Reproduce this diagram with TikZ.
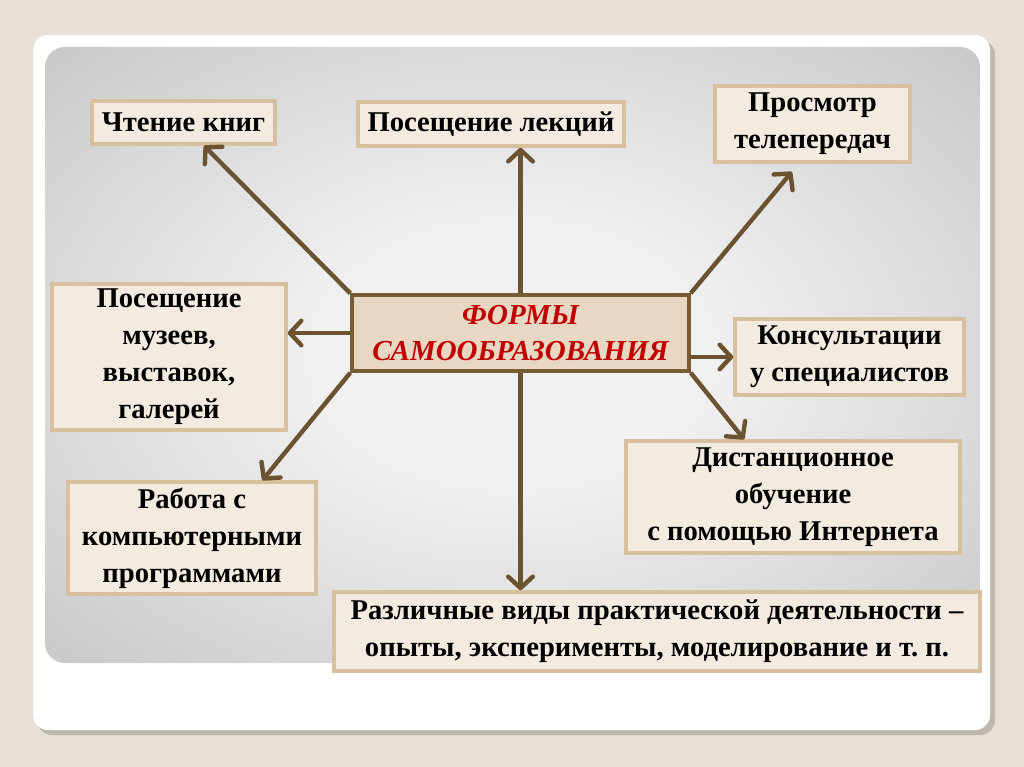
\documentclass[tikz,border=0pt]{standalone}
\usepackage{fontspec}
\setmainfont{Liberation Serif}
\usetikzlibrary{arrows.meta,calc}
\frenchspacing
\definecolor{pagebg}{HTML}{E6E0D6}
\definecolor{boxfill}{HTML}{F3EBE0}
\definecolor{boxline}{HTML}{D8C09E}
\definecolor{cfill}{HTML}{E8D8C3}
\definecolor{cline}{HTML}{7A5C34}
\definecolor{arrowc}{HTML}{6B5230}
\definecolor{ctext}{HTML}{C00000}
\definecolor{grayC}{HTML}{F1F1F1}
\definecolor{grayM}{HTML}{D0D0D0}
\definecolor{grayE}{HTML}{A6A6A6}
\definecolor{shadowc}{HTML}{BDB7AE}
\pgfdeclareradialshading{bgshade}{\pgfpoint{0bp}{0bp}}{color(0bp)=(grayC); color(10bp)=(grayC); color(31bp)=(grayM); color(56bp)=(grayE); color(75bp)=(grayE)}
\tikzset{
  box/.style={draw=boxline, fill=boxfill, line width=2pt, align=center, inner sep=2pt,
    font=\bfseries\fontsize{16.3}{21}\selectfont, text=black},
  centerbox/.style={draw=cline, fill=cfill, line width=2pt, align=center,
    font=\bfseries\itshape\fontsize{16.5}{20.5}\selectfont, text=ctext},
  conn/.style={draw=arrowc, line width=2.5pt, -{Straight Barb[round,length=6.5pt,width=14pt,line width=2.5pt]}},
}
\begin{document}
\begin{tikzpicture}[x=0.02cm,y=-0.02cm]
\useasboundingbox (0,0) rectangle (1024,767);
\fill[pagebg] (0,0) rectangle (1024,767);
% frame
\fill[shadowc, rounded corners=0.3cm] (37,40) rectangle (995,735);
\fill[white, rounded corners=0.3cm] (33,35) rectangle (990,730);
\shade[shading=bgshade, rounded corners=0.4cm] (45,47) rectangle (980,663);
% nodes
\node[centerbox, minimum width=6.74cm, minimum height=1.52cm] (c) at (520.5,333) {ФОРМЫ\\САМООБРАЗОВАНИЯ};
\node[box, minimum width=3.66cm, minimum height=0.86cm] (n1) at (183.5,122.5) {Чтение книг};
\node[box, minimum width=5.32cm, minimum height=0.88cm] (n2) at (491,124) {Посещение лекций};
\node[box, minimum width=3.90cm, minimum height=1.52cm] (n3) at (812.5,124) {Просмотр\\телепередач};
\node[box, minimum width=4.68cm, minimum height=2.92cm] (n4) at (169,357) {Посещение\\музеев,\\выставок,\\галерей};
\node[box, minimum width=4.58cm, minimum height=1.52cm] (n5) at (849.5,357) {Консультации\\у специалистов};
\node[box, minimum width=6.68cm, minimum height=2.24cm] (n6) at (793,497) {Дистанционное\\обучение\\с помощью Интернета};
\node[box, minimum width=4.96cm, minimum height=2.24cm] (n7) at (192,538) {Работа с\\компьютерными\\программами};
\node[box, minimum width=12.92cm, minimum height=1.58cm] (n8) at (657,631.5) {Различные виды практической деятельности –\\опыты, эксперименты, моделирование и т. п.};
% connectors
\draw[conn] (c.north west) -- ($(n1.south west)!0.61!(n1.south east)$);
\draw[conn] (c.north) -- (c.north |- n2.south);
\draw[conn, shorten >=6pt] (c.north east) -- ($(n3.south west)!0.43!(n3.south east)$);
\draw[conn] (c.west) -- (n4.east |- c.west);
\draw[conn] (c.east |- n5.west) -- (n5.west);
\draw[conn] (c.south east) -- ($(n6.north west)!0.355!(n6.north east)$);
\draw[conn] (c.south) -- (c.south |- n8.north);
\draw[conn] (c.south west) -- ($(n7.north west)!0.78!(n7.north east)$);
\end{tikzpicture}
\end{document}
